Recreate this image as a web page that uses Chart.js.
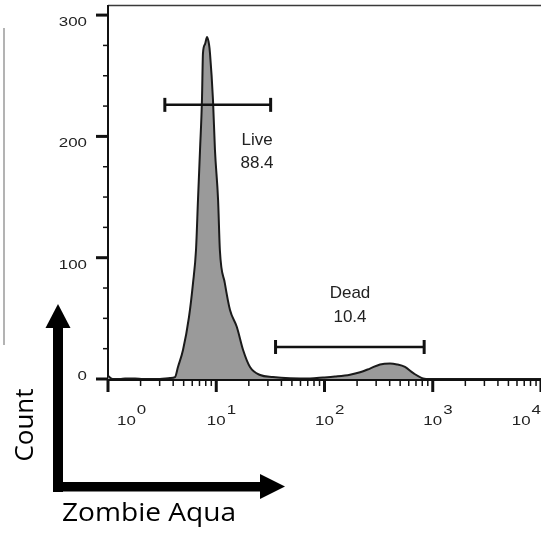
<!DOCTYPE html>
<html>
<head>
<meta charset="utf-8">
<script src="https://cdn.jsdelivr.net/npm/chart.js@4.4.1/dist/chart.umd.min.js"></script>
<style>
  html, body { margin: 0; padding: 0; background: #fff; overflow: hidden; }
  #wrap { width: 541px; height: 534px; }
</style>
</head>
<body>
<div id="wrap"><canvas id="histChart" width="541" height="534"></canvas></div>
<script>
// Histogram trace: fluorescence intensity vs event count
const intensity = [1.00, 1.11, 1.29, 1.44, 1.78, 2.10, 3.02, 3.74, 4.16, 4.43, 4.93, 5.60, 6.10, 6.50, 6.78,
  7.08, 7.38, 7.54, 7.87, 8.22, 8.57, 8.75, 9.33, 9.73, 10.4, 10.8, 12.0, 13.4, 15.5, 17.7, 20.5, 25.4,
  33.4, 48.0, 59.4, 73.5, 96.9, 125, 172, 213, 263, 326, 403, 468, 554, 657, 813, 944, 10000];
const counts = [2.5, 0, 0, 0.5, 0.5, 0, 0, 0.8, 1.6, 9.9, 23.9, 51.1, 79.1, 106.3, 147.5,
  188.7, 230, 268.7, 276, 282, 276, 268.7, 230, 188.7, 147.5, 106.3, 79.1, 56.9, 42.9, 23.9, 9.9, 3.3,
  1.6, 0.6, 0.5, 0.5, 1.2, 2, 3.5, 5.5, 8.6, 12, 12.8, 12, 9.9, 5, 0.5, 0, 0];

// axis ticks
const yTicks = [0, 100, 200, 300];
const yMinorTicks = [25, 50, 75, 125, 150, 175, 225, 250, 275];
const xDecades = [0, 1, 2, 3, 4];
const xMinorMultipliers = [2, 3, 4, 5, 6, 7, 8, 9];

// gates
const liveGate = [3.35, 31.8];
const liveGateCount = 226;
const liveLabel = ['Live', '88.4'];
const deadGate = [35.3, 833];
const deadGateCount = 26.4;
const deadLabel = ['Dead', '10.4'];

const histPoints = intensity.map((v, i) => ({ x: v, y: counts[i] }));

function stretchedText(ctx, text, x, y, sx) {
    ctx.save();
    ctx.translate(x, y);
    ctx.scale(sx, 1);
    ctx.fillText(text, 0, 0);
    ctx.restore();
}

const flowAxes = {
    id: 'flowAxes',
    beforeDatasetsDraw(chart) {
        const ctx = chart.ctx;
        const area = chart.chartArea;
        const xs = chart.scales.x;
        const ys = chart.scales.y;
        const sx = 1.25;
        ctx.save();

        // leftover edge of a neighbouring panel
        ctx.strokeStyle = '#9a9a9a';
        ctx.lineWidth = 1.5;
        ctx.beginPath();
        ctx.moveTo(4, 28); ctx.lineTo(4, 345);
        ctx.stroke();

        // frame top
        ctx.strokeStyle = '#3a3a3a';
        ctx.lineWidth = 1.5;
        ctx.beginPath();
        ctx.moveTo(area.left, area.top - 0.5); ctx.lineTo(area.right, area.top - 0.5);
        ctx.stroke();

        // y axis
        ctx.strokeStyle = '#111';
        ctx.lineWidth = 2;
        ctx.beginPath();
        ctx.moveTo(area.left, area.top - 1); ctx.lineTo(area.left, area.bottom + 1);
        ctx.stroke();
        ctx.lineWidth = 3;
        yTicks.forEach(v => {
            const py = ys.getPixelForValue(v);
            ctx.beginPath(); ctx.moveTo(area.left - 12, py); ctx.lineTo(area.left, py); ctx.stroke();
        });
        ctx.lineWidth = 1.5;
        yMinorTicks.forEach(v => {
            const py = ys.getPixelForValue(v);
            ctx.beginPath(); ctx.moveTo(area.left - 5, py); ctx.lineTo(area.left, py); ctx.stroke();
        });

        // x axis
        const axisY = area.bottom + 1;
        ctx.lineWidth = 2;
        ctx.beginPath(); ctx.moveTo(area.left, axisY); ctx.lineTo(area.right, axisY); ctx.stroke();
        xDecades.forEach(d => {
            const px = xs.getPixelForValue(Math.pow(10, d));
            ctx.lineWidth = 3;
            ctx.beginPath(); ctx.moveTo(px, axisY); ctx.lineTo(px, axisY + 12); ctx.stroke();
            if (d < 4) {
                ctx.lineWidth = 1.5;
                xMinorMultipliers.forEach(m => {
                    const mx = xs.getPixelForValue(m * Math.pow(10, d));
                    ctx.beginPath(); ctx.moveTo(mx, axisY); ctx.lineTo(mx, axisY + 6); ctx.stroke();
                });
            }
        });

        // tick labels
        ctx.fillStyle = '#222';
        ctx.font = '13.5px "Liberation Sans", Arial, sans-serif';
        ctx.textAlign = 'left';
        ctx.textBaseline = 'alphabetic';
        yTicks.forEach(v => {
            const py = ys.getPixelForValue(v);
            const label = String(v);
            const w = ctx.measureText(label).width * sx;
            const base = v === 0 ? py + 1 : py + 11;
            stretchedText(ctx, label, 87 - w, base, sx);
        });
        xDecades.forEach(d => {
            const px = xs.getPixelForValue(Math.pow(10, d));
            const bw = ctx.measureText('10').width * sx;
            const sw = ctx.measureText(String(d)).width * sx;
            let left = px - bw / 2;
            if (left < area.left + 9) left = area.left + 9;
            if (left + bw + 1 + sw > area.right) left = area.right - bw - 1 - sw;
            stretchedText(ctx, '10', left, 425, sx);
            stretchedText(ctx, String(d), left + bw + 1, 414, sx);
        });
        ctx.restore();
    },
    afterDraw(chart) {
        const ctx = chart.ctx;
        const xs = chart.scales.x;
        const ys = chart.scales.y;
        ctx.save();

        // gate labels
        ctx.fillStyle = '#222';
        ctx.font = '17px "Liberation Sans", Arial, sans-serif';
        ctx.textAlign = 'center';
        ctx.textBaseline = 'alphabetic';
        const lx = xs.getPixelForValue(23.8);
        ctx.fillText(liveLabel[0], lx, ys.getPixelForValue(192.9));
        ctx.fillText(liveLabel[1], lx, ys.getPixelForValue(173.9));
        const dx = xs.getPixelForValue(172);
        ctx.fillText(deadLabel[0], dx, ys.getPixelForValue(66.8));
        ctx.fillText(deadLabel[1], dx, ys.getPixelForValue(47));

        // direction arrows
        ctx.fillStyle = '#000';
        ctx.fillRect(53, 326, 10, 166);
        ctx.beginPath();
        ctx.moveTo(58, 304); ctx.lineTo(70.5, 328); ctx.lineTo(45.5, 328); ctx.closePath();
        ctx.fill();
        ctx.fillRect(53, 482, 208, 9.5);
        ctx.beginPath();
        ctx.moveTo(285, 486.5); ctx.lineTo(260, 474); ctx.lineTo(260, 499); ctx.closePath();
        ctx.fill();

        // arrow captions
        ctx.font = '26px "Open Sans", sans-serif';
        ctx.textAlign = 'center';
        ctx.save();
        ctx.translate(33, 425);
        ctx.rotate(-Math.PI / 2);
        ctx.fillText('Count', 0, 0);
        ctx.restore();
        ctx.textAlign = 'left';
        stretchedText(ctx, 'Zombie Aqua', 62, 521, 1.08);
        ctx.restore();
    }
};

const ctx = document.getElementById('histChart').getContext('2d');
new Chart(ctx, {
    type: 'line',
    data: {
        datasets: [
            {
                label: 'Live gate',
                data: liveGate.map(v => ({ x: v, y: liveGateCount })),
                borderColor: '#111',
                borderWidth: 2.5,
                pointStyle: 'line',
                pointRotation: 90,
                pointRadius: 7,
                pointBorderWidth: 3,
                pointBorderColor: '#111',
                fill: false,
                order: 0
            },
            {
                label: 'Dead gate',
                data: deadGate.map(v => ({ x: v, y: deadGateCount })),
                borderColor: '#111',
                borderWidth: 2.5,
                pointStyle: 'line',
                pointRotation: 90,
                pointRadius: 7,
                pointBorderWidth: 3,
                pointBorderColor: '#111',
                fill: false,
                order: 0
            },
            {
                label: 'Zombie Aqua',
                data: histPoints,
                borderColor: '#1a1a1a',
                borderWidth: 2,
                backgroundColor: '#9a9a9a',
                fill: 'origin',
                pointRadius: 0,
                cubicInterpolationMode: 'monotone',
                order: 1
            }
        ]
    },
    options: {
        responsive: false,
        animation: false,
        layout: { autoPadding: false, padding: { left: 108, top: 6, right: 0, bottom: 155 } },
        plugins: { legend: { display: false }, tooltip: { enabled: false } },
        scales: {
            x: { type: 'logarithmic', min: 1, max: 10000, display: false },
            y: { type: 'linear', min: 0, max: 307.5, display: false }
        }
    },
    plugins: [flowAxes]
});
</script>
</body>
</html>
